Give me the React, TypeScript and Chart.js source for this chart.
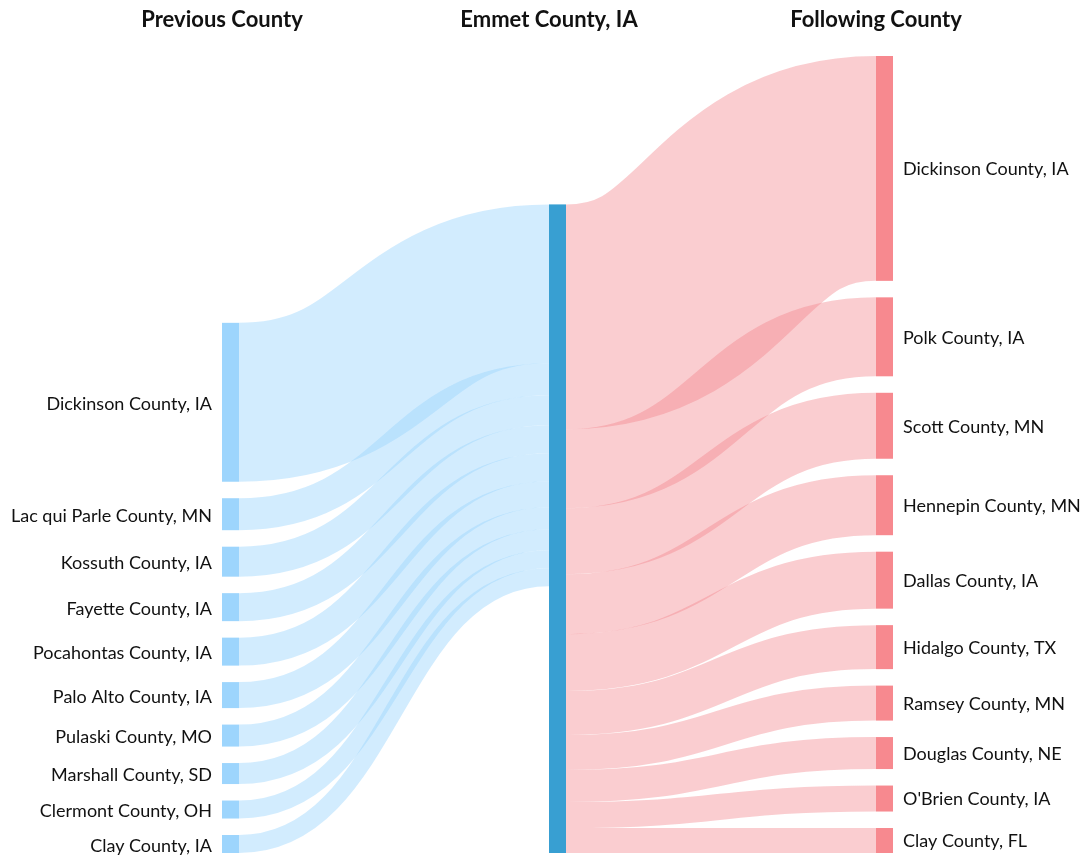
import React, { useEffect, useRef } from "react";
import { Chart, registerables } from "chart.js";

Chart.register(...registerables);

const columnTitles = ["Previous County", "Emmet County, IA", "Following County"];

const previousCounties = [
  "Dickinson County, IA",
  "Lac qui Parle County, MN",
  "Kossuth County, IA",
  "Fayette County, IA",
  "Pocahontas County, IA",
  "Palo Alto County, IA",
  "Pulaski County, MO",
  "Marshall County, SD",
  "Clermont County, OH",
  "Clay County, IA",
];
const previousValues = [159, 32, 30, 28, 28, 26, 22, 21, 18, 18];

const followingCounties = [
  "Dickinson County, IA",
  "Polk County, IA",
  "Scott County, MN",
  "Hennepin County, MN",
  "Dallas County, IA",
  "Hidalgo County, TX",
  "Ramsey County, MN",
  "Douglas County, NE",
  "O'Brien County, IA",
  "Clay County, FL",
];
const followingValues = [225, 79, 66, 60, 57, 44, 35, 32, 26, 25];

const NODE_GAP = 16.5; // gap between nodes, in value units
const NODE_WIDTH = 17;

const COLORS = {
  leftNode: "#9dd5fd",
  centerNode: "#389fd2",
  rightNode: "#f7898f",
  leftFlow: "rgba(157,213,253,0.46)",
  rightFlow: "rgba(243,130,137,0.40)",
  text: "#111111",
};

const sum = (a: number[]) => a.reduce((s, v) => s + v, 0);

function stackColumn(values: number[]) {
  const total = sum(values) + (values.length - 1) * NODE_GAP;
  let top = total;
  return values.map((v) => {
    const t = top;
    const b = top - v;
    top = b - NODE_GAP;
    return { t, b };
  });
}

const sankeyPlugin = {
  id: "sankeyDraw",
  afterDraw(chart: any) {
    const ctx = chart.ctx as CanvasRenderingContext2D;
    const xs = chart.scales.x;
    const ys = chart.scales.y;
    const colCenter = [0, 1, 2].map((c) => xs.getPixelForValue(c));
    const x0 = colCenter.map((c) => c - NODE_WIDTH / 2);
    const x1 = colCenter.map((c) => c + NODE_WIDTH / 2);

    const leftStack = stackColumn(previousValues);
    const rightStack = stackColumn(followingValues);
    const centerValue = Math.max(sum(previousValues), sum(followingValues));

    const px = (v: number) => ys.getPixelForValue(v);

    const drawFlow = (
      xa: number, ta: number, ba: number,
      xb: number, tb: number, bb: number,
      color: string
    ) => {
      const ya = (px(ta) + px(ba)) / 2;
      const yb = (px(tb) + px(bb)) / 2;
      const w = px(ba) - px(ta);
      const xm = (xa + xb) / 2;
      ctx.beginPath();
      ctx.moveTo(xa, ya);
      ctx.bezierCurveTo(xm, ya, xm, yb, xb, yb);
      ctx.lineWidth = w;
      ctx.lineCap = "butt";
      ctx.strokeStyle = color;
      ctx.stroke();
    };

    ctx.save();
    let cum = centerValue;
    previousValues.forEach((v, i) => {
      const s = leftStack[i];
      drawFlow(x1[0], s.t, s.b, x0[1], cum, cum - v, COLORS.leftFlow);
      cum -= v;
    });
    cum = centerValue;
    followingValues.forEach((v, i) => {
      const s = rightStack[i];
      drawFlow(x1[1], cum, cum - v, x0[2], s.t, s.b, COLORS.rightFlow);
      cum -= v;
    });

    const rect = (col: number, t: number, b: number, color: string) => {
      ctx.fillStyle = color;
      ctx.fillRect(x0[col], px(t), NODE_WIDTH, px(b) - px(t));
    };
    leftStack.forEach((s) => rect(0, s.t, s.b, COLORS.leftNode));
    rect(1, centerValue, 0, COLORS.centerNode);
    rightStack.forEach((s) => rect(2, s.t, s.b, COLORS.rightNode));

    ctx.fillStyle = COLORS.text;
    ctx.font = "18px Lato";
    ctx.textBaseline = "middle";
    ctx.textAlign = "right";
    leftStack.forEach((s, i) => {
      ctx.fillText(previousCounties[i], x0[0] - 10, (px(s.t) + px(s.b)) / 2 + 2);
    });
    ctx.textAlign = "left";
    rightStack.forEach((s, i) => {
      ctx.fillText(followingCounties[i], x1[2] + 10, (px(s.t) + px(s.b)) / 2 + 1);
    });

    ctx.font = "bold 22px Lato";
    ctx.textAlign = "center";
    ctx.fillStyle = "#111";
    columnTitles.forEach((t, i) => {
      ctx.fillText(t, x0[i], 20);
    });
    ctx.restore();
  },
};

export default function App() {
  const ref = useRef<HTMLCanvasElement | null>(null);
  useEffect(() => {
    if (!ref.current) return;
    const rightTotal = sum(followingValues) + (followingValues.length - 1) * NODE_GAP;
    const chart = new Chart(ref.current, {
      type: "scatter",
      data: { datasets: [{ data: [] }] },
      options: {
        animation: false,
        responsive: false,
        maintainAspectRatio: false,
        events: [],
        layout: { padding: { top: 56, bottom: 4, left: 230.5, right: 197.5 } },
        plugins: { legend: { display: false }, tooltip: { enabled: false } },
        scales: {
          x: { type: "linear", min: 0, max: 2, display: false },
          y: { type: "linear", min: 0, max: rightTotal, display: false },
        },
      },
      plugins: [sankeyPlugin],
    });
    return () => chart.destroy();
  }, []);
  return (
    <div style={{ position: "absolute", left: 0, top: 0, width: 1082, height: 857, background: "#fff" }}>
      <canvas ref={ref} width={1082} height={857} style={{ width: 1082, height: 857 }} />
    </div>
  );
}
